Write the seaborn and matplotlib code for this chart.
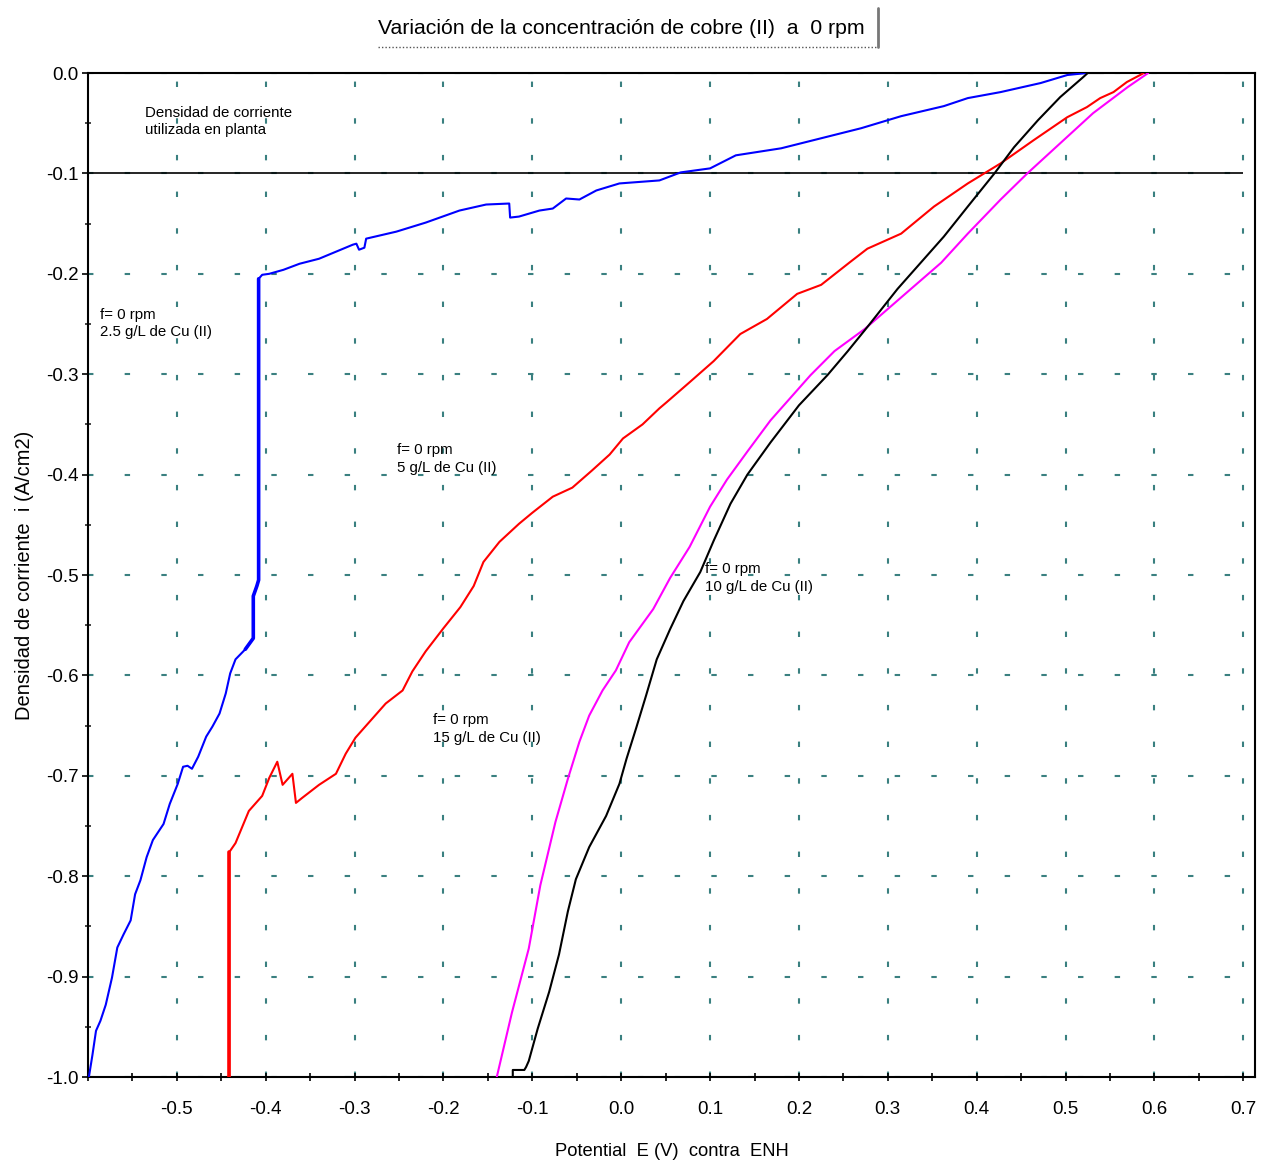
import numpy as np
import pandas as pd
import matplotlib
matplotlib.use("Agg")
import matplotlib.pyplot as plt
import seaborn as sns
from matplotlib.lines import Line2D
from matplotlib.ticker import FixedLocator, MultipleLocator

# ---------------- data ----------------
blue_x = [-0.599, -0.595, -0.591, -0.586, -0.580, -0.573, -0.567, -0.560, -0.552, -0.547,
          -0.541, -0.534, -0.527, -0.515, -0.508, -0.499, -0.493, -0.488, -0.483, -0.476,
          -0.467, -0.460, -0.452, -0.445, -0.440, -0.434, -0.423, -0.414, -0.414, -0.410,
          -0.408, -0.408, -0.404, -0.396, -0.380, -0.362, -0.340, -0.321, -0.302, -0.298,
          -0.295, -0.289, -0.287, -0.253, -0.220, -0.182, -0.152, -0.126, -0.125, -0.115,
          -0.092, -0.077, -0.062, -0.047, -0.028, -0.002, 0.043, 0.067, 0.100, 0.129,
          0.180, 0.225, 0.270, 0.315, 0.363, 0.390, 0.427, 0.472, 0.502, 0.524]
blue_y = [-1.000, -0.978, -0.954, -0.944, -0.928, -0.901, -0.871, -0.858, -0.844, -0.818,
          -0.804, -0.781, -0.764, -0.748, -0.728, -0.708, -0.691, -0.690, -0.693, -0.681,
          -0.661, -0.651, -0.638, -0.618, -0.598, -0.584, -0.574, -0.563, -0.521, -0.511,
          -0.505, -0.205, -0.201, -0.200, -0.196, -0.190, -0.185, -0.178, -0.171, -0.170,
          -0.176, -0.174, -0.165, -0.158, -0.149, -0.137, -0.131, -0.130, -0.144, -0.143,
          -0.137, -0.135, -0.125, -0.126, -0.117, -0.110, -0.107, -0.099, -0.095, -0.082,
          -0.075, -0.065, -0.055, -0.043, -0.033, -0.025, -0.019, -0.010, -0.002, 0.000]

red_x = [-0.441, -0.441, -0.434, -0.419, -0.404, -0.396, -0.387, -0.381, -0.375, -0.370,
         -0.366, -0.359, -0.340, -0.321, -0.310, -0.299, -0.284, -0.265, -0.246, -0.235,
         -0.220, -0.200, -0.181, -0.166, -0.155, -0.137, -0.115, -0.100, -0.077, -0.055,
         -0.033, -0.013, 0.002, 0.024, 0.043, 0.051, 0.077, 0.104, 0.134, 0.164,
         0.198, 0.225, 0.258, 0.277, 0.315, 0.352, 0.390, 0.427, 0.464, 0.502,
         0.524, 0.539, 0.554, 0.569, 0.584, 0.588]
red_y = [-1.000, -0.776, -0.767, -0.735, -0.720, -0.702, -0.686, -0.709, -0.703, -0.698,
         -0.727, -0.722, -0.709, -0.698, -0.678, -0.662, -0.647, -0.628, -0.615, -0.596,
         -0.576, -0.553, -0.532, -0.511, -0.487, -0.467, -0.449, -0.438, -0.422, -0.413,
         -0.396, -0.380, -0.364, -0.350, -0.334, -0.328, -0.308, -0.287, -0.260, -0.245,
         -0.220, -0.211, -0.188, -0.175, -0.160, -0.133, -0.110, -0.090, -0.067, -0.044,
         -0.034, -0.025, -0.019, -0.009, -0.002, 0.000]

magenta_x = [-0.140, -0.123, -0.104, -0.091, -0.074, -0.060, -0.047, -0.036, -0.021, -0.006,
             0.009, 0.036, 0.055, 0.077, 0.100, 0.119, 0.142, 0.168, 0.194, 0.213,
             0.240, 0.274, 0.317, 0.360, 0.390, 0.427, 0.457, 0.494, 0.531, 0.570, 0.593]
magenta_y = [-1.000, -0.936, -0.872, -0.809, -0.746, -0.703, -0.666, -0.640, -0.615, -0.595,
             -0.567, -0.534, -0.503, -0.472, -0.432, -0.405, -0.377, -0.346, -0.320, -0.301,
             -0.277, -0.255, -0.222, -0.189, -0.160, -0.126, -0.100, -0.070, -0.040, -0.014, 0.000]

black_x = [-0.122, -0.122, -0.109, -0.107, -0.104, -0.094, -0.081, -0.070, -0.060, -0.051,
           -0.036, -0.017, -0.002, 0.006, 0.017, 0.028, 0.040, 0.055, 0.070, 0.089,
           0.104, 0.123, 0.142, 0.168, 0.200, 0.232, 0.255, 0.277, 0.311, 0.340,
           0.363, 0.390, 0.420, 0.442, 0.469, 0.494, 0.520, 0.525, 0.543]
black_y = [-1.000, -0.993, -0.993, -0.990, -0.984, -0.952, -0.915, -0.878, -0.835, -0.803,
           -0.771, -0.740, -0.708, -0.683, -0.652, -0.620, -0.584, -0.554, -0.526, -0.497,
           -0.466, -0.429, -0.400, -0.368, -0.331, -0.301, -0.277, -0.253, -0.215, -0.186,
           -0.163, -0.133, -0.100, -0.074, -0.047, -0.024, -0.004, 0.000, 0.000]

plant_density = -0.1
plant_x_range = [-0.6, 0.7]

x_ticks = [-0.5, -0.4, -0.3, -0.2, -0.1, 0.0, 0.1, 0.2, 0.3, 0.4, 0.5, 0.6, 0.7]
y_ticks = [0.0, -0.1, -0.2, -0.3, -0.4, -0.5, -0.6, -0.7, -0.8, -0.9, -1.0]

title = "Variación de la concentración de cobre (II)  a  0 rpm"
x_label = "Potential  E (V)  contra  ENH"
y_label = "Densidad de corriente  i (A/cm2)"

annotations = [
    ("Densidad de corriente\nutilizada en planta", -0.5357, -0.0483),
    ("f= 0 rpm\n2.5 g/L de Cu (II)", -0.586, -0.2495),
    ("f= 0 rpm\n5 g/L de Cu (II)", -0.252, -0.3845),
    ("f= 0 rpm\n15 g/L de Cu (II)", -0.212, -0.6534),
    ("f= 0 rpm\n10 g/L de Cu (II)", 0.094, -0.503),
]

# ---------------- style ----------------
sns.set_style("white")
FONT = ["Liberation Sans Narrow", "Liberation Sans", "DejaVu Sans"]
plt.rcParams["font.family"] = FONT
plt.rcParams["axes.unicode_minus"] = False

W, H = 1273, 1167
fig = plt.figure(figsize=(W / 100, H / 100), dpi=100)
L, R, T, B = 88, 1255, 73, 1077
ax = fig.add_axes([L / W, 1 - B / H, (R - L) / W, (B - T) / H])

grid_color = "#3a8080"
ax.set_axisbelow(True)

series = [
    (blue_x, blue_y, "#0000ff"),
    (red_x, red_y, "#ff0000"),
    (magenta_x, magenta_y, "#ff00ff"),
    (black_x, black_y, "#000000"),
]
for xs, ys, c in series:
    sns.lineplot(x=xs, y=ys, sort=False, estimator=None, color=c,
                 linewidth=1.5, ax=ax, legend=False, zorder=3)

# thicker vertical jumps
sns.lineplot(x=blue_x[26:32], y=blue_y[26:32], sort=False, estimator=None,
             color="#0000ff", linewidth=2.6, ax=ax, legend=False, zorder=3)
sns.lineplot(x=red_x[:2], y=red_y[:2], sort=False, estimator=None,
             color="#ff0000", linewidth=2.6, ax=ax, legend=False, zorder=3)

ax.hlines(plant_density, plant_x_range[0], plant_x_range[1], color="black",
          linewidth=1.2, zorder=2)

ax.set_xlim(-0.6, 0.7132)
ax.set_ylim(-1.0, 0.0)

ax.xaxis.set_major_locator(FixedLocator(x_ticks))
ax.yaxis.set_major_locator(FixedLocator(y_ticks))
ax.xaxis.set_minor_locator(MultipleLocator(0.05))
ax.yaxis.set_minor_locator(MultipleLocator(0.05))
ax.set_xticklabels([f"{v:.1f}" for v in x_ticks])
ax.set_yticklabels([f"{v:.1f}" for v in y_ticks])

ax.grid(True, which="major", color=grid_color, linewidth=1.5,
        linestyle=(0, (2.6, 15)))

ax.tick_params(axis="x", which="both", direction="inout", length=6, width=1.2,
               pad=14, labelsize=13.5, colors="black", bottom=True)
ax.tick_params(axis="y", which="major", direction="out", length=4, width=1.2,
               pad=3, labelsize=13.5, colors="black", left=True)
ax.tick_params(axis="y", which="minor", direction="inout", length=5, width=1.2,
               left=True)

for s in ax.spines.values():
    s.set_color("black")
    s.set_linewidth(1.5)
    s.set_visible(True)

for txt, x, y in annotations:
    ax.text(x, y, txt, fontsize=10.8, ha="left", va="center", linespacing=1.35,
            color="black", zorder=4)

# title with partial frame
fig.text(621 / W, 1 - 28 / H, title, ha="center", va="center", fontsize=15.3,
         color="black")
fig.add_artist(Line2D([378 / W, 878 / W], [1 - 47 / H, 1 - 47 / H],
                      color="#555555", linewidth=1.0, linestyle=(0, (1, 1.5))))
fig.add_artist(Line2D([878 / W, 878 / W], [1 - 8 / H, 1 - 47 / H],
                      color="#777777", linewidth=2.0))

fig.text(672 / W, 1 - 1152 / H, x_label, ha="center", va="center", fontsize=13.2,
         color="black")
fig.text(25 / W, 1 - 575 / H, y_label, ha="center", va="center", rotation=90,
         fontsize=14.5, color="black")

fig.savefig("out.png", dpi=100, facecolor="white")
